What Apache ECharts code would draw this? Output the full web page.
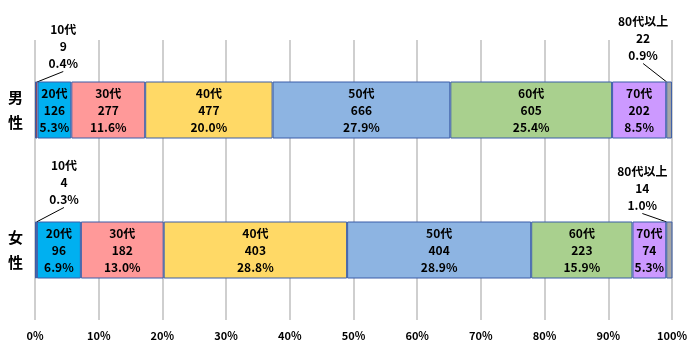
<!DOCTYPE html>
<html><head><meta charset="utf-8">
<script src="https://cdn.jsdelivr.net/npm/echarts@6/dist/echarts.min.js"></script>
<style>html,body{margin:0;padding:0;background:#fff}#c{width:690px;height:360px}</style>
</head><body><div id="c"></div>
<script>
const rows = ['男\n性', '女\n性'];
const ageGroups = ['10代','20代','30代','40代','50代','60代','70代','80代以上'];
const maleCounts = [9,126,277,477,666,605,202,22];
const malePct = [0.4,5.3,11.6,20.0,27.9,25.4,8.5,0.9];
const femaleCounts = [4,96,182,403,404,223,74,14];
const femalePct = [0.3,6.9,13.0,28.8,28.9,15.9,5.3,1.0];
const xTicks = [0,10,20,30,40,50,60,70,80,90,100];
const colors = ['#C0392B','#00B0F0','#FF9999','#FFD966','#8DB4E2','#A9D08E','#CC99FF','#A6A6A6'];

const counts = [maleCounts, femaleCounts];
const pcts = [malePct, femalePct];
const font = '"Noto Sans CJK JP", "Noto Sans", sans-serif';

const series = ageGroups.map((g, i) => {
  const outside = (i === 0 || i === ageGroups.length - 1);
  const s = {
    name: g, type: 'bar', stack: 'total', barWidth: 57,
    data: [malePct[i], femalePct[i]],
    itemStyle: { color: colors[i], borderColor: '#3A5DA8', borderWidth: 1 },
    label: {
      show: true,
      position: outside ? 'top' : 'inside',
      formatter: p => g + '\n' + counts[p.dataIndex][i] + '\n' + pcts[p.dataIndex][i].toFixed(1) + '%',
      color: '#000', fontWeight: 'bold', fontSize: 12, lineHeight: 17, fontFamily: font
    }
  };
  if (outside) {
    s.labelLine = { show: true, lineStyle: { color: '#000', width: 1 } };
    s.labelLayout = function (p) {
      if (i === 0) return p.dataIndex === 0 ? { dx: 27, dy: -5 } : { dx: 28, dy: -9 };
      return p.dataIndex === 0 ? { dx: -26, dy: -13 } : { dx: -27, dy: -3 };
    };
  }
  return s;
});

const chart = echarts.init(document.getElementById('c'));
chart.setOption({
  animation: false,
  grid: { left: 35, right: 18, top: 40, bottom: 40 },
  xAxis: {
    type: 'value', min: 0, max: 100, interval: 10,
    axisLine: { show: false }, axisTick: { show: false },
    splitLine: { show: true, lineStyle: { color: '#BFBFBF', width: 1.5 } },
    axisLabel: { formatter: v => xTicks.includes(v) ? v + '%' : '', color: '#000', fontWeight: 'bold', fontSize: 11, fontFamily: font, margin: 10 }
  },
  yAxis: {
    type: 'category', data: rows, inverse: true,
    axisLine: { show: false }, axisTick: { show: false },
    axisLabel: { color: '#000', fontWeight: 'bold', fontSize: 15, lineHeight: 25, fontFamily: font, margin: 12 }
  },
  series: series
});
</script></body></html>
